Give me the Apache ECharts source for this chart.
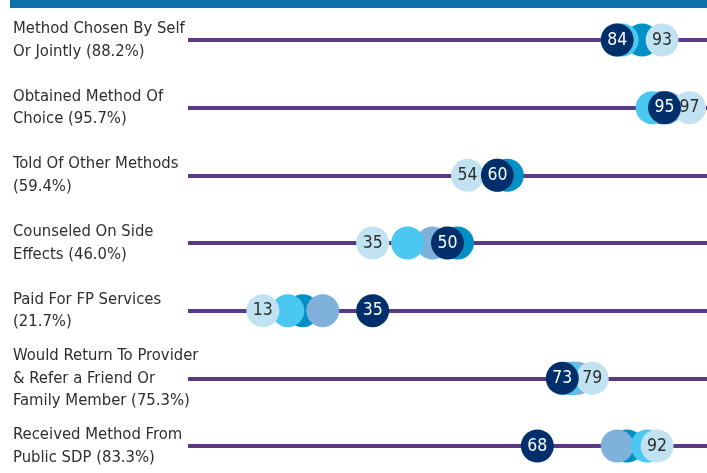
<!DOCTYPE html>
<html>
<head>
<meta charset="utf-8">
<script src="https://cdn.jsdelivr.net/npm/echarts@6/dist/echarts.min.js"></script>
<style>
  html, body { margin: 0; padding: 0; background: #fff; }
  #chart { width: 707px; height: 473px; }
</style>
</head>
<body>
<div id="chart"></div>
<script>
// 行标签（从上到下）
const categories = [
  'Method Chosen By Self\nOr Jointly (88.2%)',
  'Obtained Method Of\nChoice (95.7%)',
  'Told Of Other Methods\n(59.4%)',
  'Counseled On Side\nEffects (46.0%)',
  'Paid For FP Services\n(21.7%)',
  'Would Return To Provider\n& Refer a Friend Or\nFamily Member (75.3%)',
  'Received Method From\nPublic SDP (83.3%)'
];

// 五组圆点的数值（深蓝、浅蓝带标签，其余三组无标签，按位置估计）
const navyValues = [84, 95, 60, 50, 35, 73, 68];
const paleValues = [93, 97, 54, 35, 13, 79, 92];
const cyanValues = [85, 91, 60, 42, 18, 74, 90];
const mediumValues = [89, 93, 62, 52, 21, 75, 86];
const steelValues = [84, 94, 60, 47, 25, 76, 84];

const COLORS = {
  navy: '#002f6c',
  medium: '#0090c6',
  cyan: '#4bc8f1',
  steel: '#7fb1da',
  pale: '#c0e2f1',
  line: '#5a3a86',
  bar: '#0b73a9',
  text: '#2e2e2e'
};

const X_MIN = -2;
const X_MAX = 102;
const GRID_LEFT = 188;
const GRID_RIGHT = -2;
const GRID_WIDTH = 707 - GRID_LEFT - GRID_RIGHT;
const PX_PER_UNIT = GRID_WIDTH / (X_MAX - X_MIN);
const DOT_SIZE = 33;
const FONT = '"DejaVu Sans Condensed", "Liberation Sans Narrow", sans-serif';

// 两个带标签的圆点太近时左右推开，避免数字互相遮挡
function dodgeOffsets(a, b, minGap) {
  const offA = [];
  const offB = [];
  a.forEach((va, i) => {
    const vb = b[i];
    const d = Math.abs(va - vb);
    let shift = 0;
    if (d < minGap) shift = (minGap - d) / 2 * PX_PER_UNIT;
    offA.push(va <= vb ? -shift : shift);
    offB.push(va <= vb ? shift : -shift);
  });
  return [offA, offB];
}

const [navyOffsets, paleOffsets] = dodgeOffsets(navyValues, paleValues, 5);

function dotSeries(name, values, color, z, labelColor, offsets) {
  return {
    name: name,
    type: 'scatter',
    z: z,
    clip: false,
    silent: true,
    symbol: 'circle',
    symbolSize: DOT_SIZE,
    itemStyle: { color: color, opacity: 1 },
    label: labelColor ? {
      show: true,
      position: 'inside',
      formatter: p => p.value[0],
      color: labelColor,
      fontSize: 17.5,
      fontFamily: FONT
    } : { show: false },
    data: values.map((v, i) => ({
      value: [v, i],
      symbolOffset: [offsets ? offsets[i] : 0, 0]
    }))
  };
}

const chart = echarts.init(document.getElementById('chart'));

const option = {
  animation: false,
  backgroundColor: '#ffffff',
  graphic: [{
    type: 'rect',
    left: 10,
    top: 0,
    shape: { width: 697, height: 8 },
    style: { fill: COLORS.bar }
  }],
  grid: {
    left: GRID_LEFT,
    right: GRID_RIGHT,
    top: 40,
    bottom: 27
  },
  xAxis: {
    type: 'value',
    min: X_MIN,
    max: X_MAX,
    show: false
  },
  yAxis: {
    type: 'category',
    data: categories,
    inverse: true,
    boundaryGap: false,
    axisLine: { show: false },
    axisTick: { show: false },
    axisLabel: {
      interval: 0,
      align: 'left',
      margin: GRID_LEFT - 13,
      color: COLORS.text,
      fontSize: 16.5,
      lineHeight: 22.5,
      fontFamily: FONT
    },
    splitLine: {
      show: true,
      interval: 0,
      lineStyle: { color: COLORS.line, width: 4 }
    }
  },
  series: [
    dotSeries('medium', mediumValues, COLORS.medium, 2),
    dotSeries('steel', steelValues, COLORS.steel, 3),
    dotSeries('cyan', cyanValues, COLORS.cyan, 4),
    dotSeries('pale', paleValues, COLORS.pale, 5, COLORS.text, paleOffsets),
    dotSeries('navy', navyValues, COLORS.navy, 6, '#ffffff', navyOffsets)
  ]
};

chart.setOption(option);
</script>
</body>
</html>
